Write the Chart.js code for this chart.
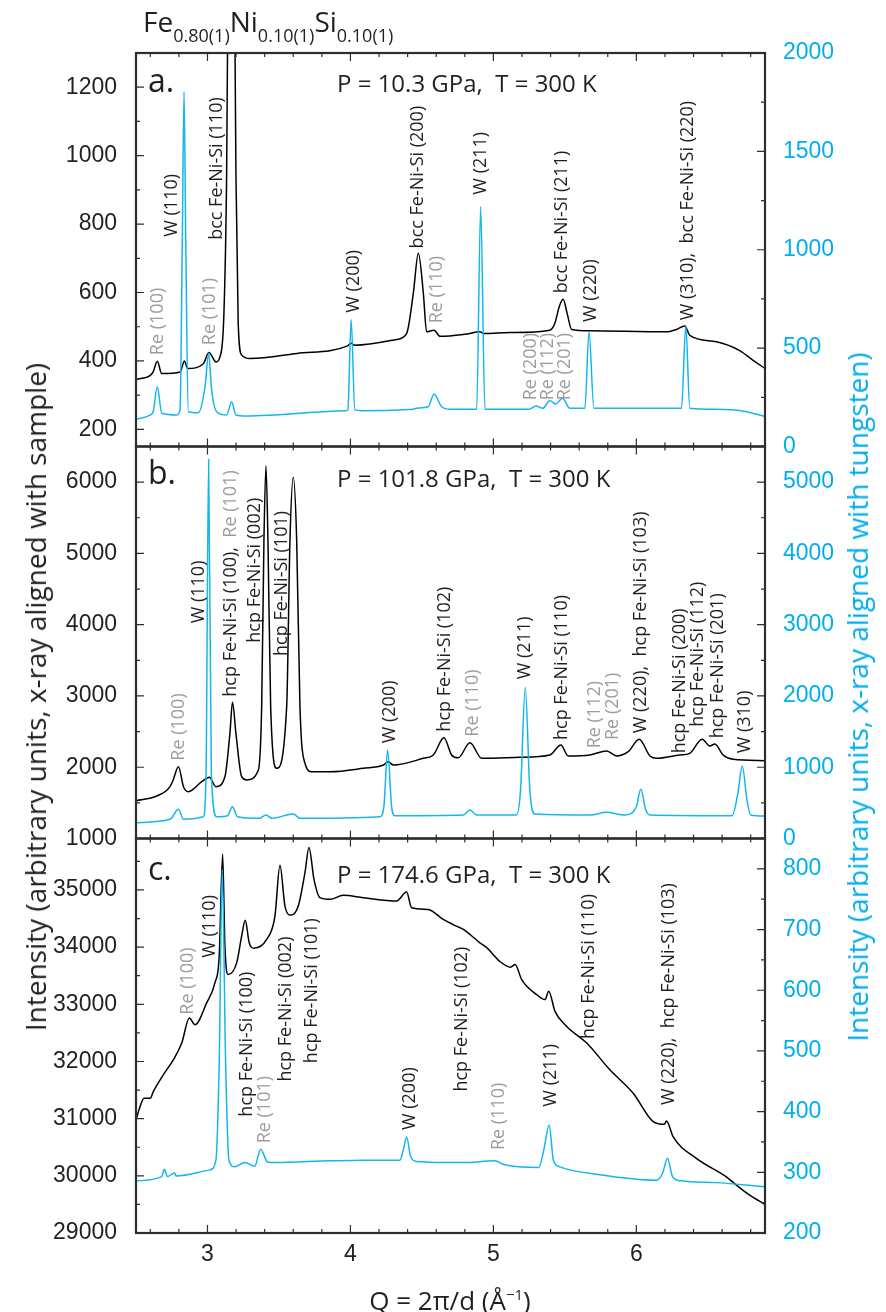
<!DOCTYPE html>
<html>
<head>
<meta charset="utf-8">
<script src="https://cdn.jsdelivr.net/npm/chart.js@4.4.1/dist/chart.umd.min.js"></script>
<style>
  body { margin: 0; background: #fff; }
  #fig { position: relative; width: 886px; height: 1312px; overflow: hidden; font-family: "Open Sans", sans-serif; color: #231f20; }
  #fig canvas { position: absolute; left: 0; top: 0; }
  .title { position: absolute; left: 143px; top: 7px; font-size: 28px; line-height: 28px; white-space: nowrap; }
  .title span { font-size: 18px; position: relative; top: 10px; }
  .ytitle { position: absolute; white-space: nowrap; font-size: 28px; line-height: 28px; transform: translate(-50%, -50%) rotate(-90deg); }
  .xtitle { position: absolute; left: 450px; top: 1297px; white-space: nowrap; font-size: 26px; line-height: 26px; transform: translate(-50%, -50%); }
  .xtitle sup { font-size: 15px; vertical-align: 10px; }
</style>
</head>
<body>
<div id="fig">
  <canvas id="chartA" width="886" height="1312"></canvas>
  <canvas id="chartB" width="886" height="1312"></canvas>
  <canvas id="chartC" width="886" height="1312"></canvas>
  <div class="title">Fe<span>0.80(1)</span>Ni<span>0.10(1)</span>Si<span>0.10(1)</span></div>
  <div class="ytitle" style="left:35px; top:697px;">Intensity (arbitrary units, x-ray aligned with sample)</div>
  <div class="ytitle" style="left:857px; top:697px; color:#00aeef;">Intensity (arbitrary units, x-ray aligned with tungsten)</div>
  <div class="xtitle">Q = 2π/d (Å<sup>−1</sup>)</div>
</div>
<script>
const qMin = 2.5, qMax = 6.9;
const qTicks = [3, 4, 5, 6];

// a. P = 10.3 GPa
const aSampleQ = [2.50, 2.60, 2.62, 2.649, 2.68, 2.81, 2.838, 2.862, 2.971, 3.01, 3.06, 3.087, 3.115, 3.134, 3.141, 3.167, 3.192, 3.199, 3.215, 3.239, 3.297, 3.626, 3.98, 4.005, 4.03, 4.323, 4.393, 4.44, 4.475, 4.51, 4.533, 4.585, 4.627, 4.80, 4.907, 4.93, 5.115, 5.395, 5.43, 5.46, 5.488, 5.516, 5.547, 5.675, 6.21, 6.28, 6.339, 6.374, 6.56, 6.72, 6.817, 6.90];
const aSampleI = [346, 358, 368, 399, 363, 368, 400, 378, 392, 425, 397, 412, 539, 949, 1350, 4000, 1350, 949, 510, 417, 407, 422, 444, 452, 446, 463, 480, 598, 715, 598, 485, 490, 472, 478, 485, 480, 483, 490, 510, 558, 580, 539, 492, 488, 485, 492, 502, 475, 456, 431, 402, 378];
const aTungQ = [2.50, 2.598, 2.62, 2.649, 2.68, 2.785, 2.808, 2.824, 2.836, 2.848, 2.866, 2.936, 2.983, 3.008, 3.029, 3.064, 3.134, 3.169, 3.199, 3.27, 3.97, 3.982, 4.005, 4.031, 4.08, 4.44, 4.46, 4.544, 4.585, 4.638, 4.70, 4.883, 4.911, 4.941, 5.25, 5.297, 5.346, 5.395, 5.437, 5.483, 5.535, 5.64, 5.669, 5.703, 6.012, 6.316, 6.346, 6.374, 6.56, 6.77, 6.90];
const aTungI = [138, 160, 177, 304, 169, 160, 186, 1050, 1803, 1050, 177, 172, 304, 474, 287, 177, 160, 228, 160, 155, 182, 186, 646, 186, 182, 189, 195, 202, 267, 202, 189, 189, 1219, 189, 189, 206, 194, 233, 216, 245, 194, 194, 584, 194, 194, 194, 612, 194, 189, 177, 152];
const aLeftTicks = [200, 400, 600, 800, 1000, 1200];
const aRightTicks = [0, 500, 1000, 1500, 2000];
const aPeakText = ['Re (100)', 'W (110)', 'Re (101)', 'bcc Fe-Ni-Si (110)', 'W (200)', 'bcc Fe-Ni-Si (200)', 'Re (110)', 'W (211)', 'Re (200)', 'Re (112)', 'Re (201)', 'bcc Fe-Ni-Si (211)', 'W (220)', 'W (310),  bcc Fe-Ni-Si (220)'];
const aPeakQ = [2.653, 2.754, 3.017, 3.068, 4.024, 4.472, 4.607, 4.911, 5.262, 5.378, 5.502, 5.478, 5.68, 6.362];
const aPeakI = [417, 763, 446, 754, 541, 729, 510, 886, 285, 285, 285, 598, 514, 519];

// b. P = 101.8 GPa
const bSampleQ = [2.50, 2.645, 2.738, 2.76, 2.797, 2.832, 2.866, 2.96, 3.013, 3.059, 3.122, 3.157, 3.175, 3.199, 3.239, 3.274, 3.356, 3.379, 3.395, 3.409, 3.423, 3.442, 3.484, 3.554, 3.577, 3.60, 3.624, 3.647, 3.682, 3.729, 3.857, 4.09, 4.23, 4.264, 4.30, 4.51, 4.58, 4.654, 4.708, 4.754, 4.836, 4.918, 5.185, 5.395, 5.472, 5.523, 5.675, 5.792, 5.862, 5.943, 6.02, 6.095, 6.141, 6.304, 6.374, 6.46, 6.514, 6.549, 6.607, 6.677, 6.90];
const bSampleI = [1530, 1596, 1727, 1821, 2007, 1727, 1657, 1797, 1859, 1727, 1867, 2476, 2911, 2476, 1867, 1821, 1961, 2849, 5188, 6226, 5188, 2849, 1985, 2849, 5188, 6068, 5188, 2849, 2055, 1937, 1937, 1985, 2031, 2078, 2031, 2125, 2172, 2414, 2172, 2132, 2344, 2125, 2139, 2172, 2312, 2158, 2172, 2228, 2158, 2218, 2392, 2158, 2125, 2172, 2195, 2392, 2298, 2326, 2172, 2111, 2092];
const bTungQ = [2.50, 2.738, 2.797, 2.832, 2.971, 2.99, 3.008, 3.027, 3.064, 3.14, 3.175, 3.21, 3.364, 3.409, 3.45, 3.60, 3.647, 4.206, 4.234, 4.26, 4.288, 4.31, 4.79, 4.836, 4.883, 5.162, 5.19, 5.223, 5.255, 5.29, 5.675, 5.79, 5.92, 6.0, 6.031, 6.066, 6.095, 6.67, 6.71, 6.741, 6.774, 6.80, 6.90];
const bTungI = [222, 269, 410, 269, 306, 915, 5320, 915, 306, 320, 446, 306, 283, 330, 283, 344, 283, 306, 446, 1242, 446, 320, 330, 400, 330, 330, 680, 2121, 680, 344, 330, 367, 330, 446, 690, 400, 330, 320, 634, 1017, 540, 330, 316];
const bLeftTicks = [1000, 2000, 3000, 4000, 5000, 6000];
const bRightTicks = [0, 1000, 2000, 3000, 4000, 5000];
const bPeakText = ['Re (100)', 'W (110)', 'hcp Fe-Ni-Si (100),  |Re (101)', 'hcp Fe-Ni-Si (002)', 'hcp Fe-Ni-Si (101)', 'W (200)', 'hcp Fe-Ni-Si (102)', 'Re (110)', 'W (211)', 'hcp Fe-Ni-Si (110)', 'Re (112)', 'Re (201)', 'W (220),  hcp Fe-Ni-Si (103)', 'hcp Fe-Ni-Si (200)', 'hcp Fe-Ni-Si (112)', 'hcp Fe-Ni-Si (201)', 'W (310)'];
const bPeakQ = [2.801, 2.943, 3.165, 3.332, 3.521, 4.278, 4.659, 4.855, 5.223, 5.481, 5.711, 5.839, 6.033, 6.302, 6.432, 6.572, 6.756];
const bPeakI = [2092, 4019, 2990, 3747, 3561, 2336, 2499, 2428, 3234, 2382, 2265, 2382, 2476, 2195, 2569, 2406, 2195];

// c. P = 174.6 GPa
const cSampleQ = [2.50, 2.528, 2.556, 2.60, 2.621, 2.691, 2.761, 2.82, 2.873, 2.913, 2.994, 3.052, 3.082, 3.106, 3.122, 3.145, 3.204, 3.239, 3.264, 3.292, 3.325, 3.414, 3.472, 3.507, 3.542, 3.577, 3.635, 3.682, 3.71, 3.745, 3.787, 3.857, 3.95, 4.09, 4.323, 4.393, 4.428, 4.544, 4.649, 4.742, 4.79, 4.906, 4.95, 5.05, 5.12, 5.152, 5.198, 5.303, 5.361, 5.387, 5.431, 5.513, 5.653, 5.815, 5.978, 6.118, 6.195, 6.211, 6.257, 6.42, 6.63, 6.70, 6.793, 6.90];
const cSampleI = [30977, 31210, 31357, 31357, 31473, 31766, 32029, 32322, 32760, 32643, 33024, 33374, 33841, 35625, 34016, 33520, 33725, 34192, 34472, 34076, 33981, 34134, 34543, 35432, 34718, 34560, 34718, 35304, 35742, 35186, 34865, 34836, 34906, 34865, 34806, 34964, 34690, 34660, 34485, 34367, 34310, 34076, 34000, 33740, 33650, 33695, 33432, 33169, 33082, 33227, 32876, 32613, 32322, 31854, 31445, 30947, 30900, 30960, 30684, 30305, 29982, 29837, 29661, 29500];
const cTungQ = [2.50, 2.68, 2.698, 2.72, 2.77, 2.78, 3.017, 3.059, 3.082, 3.103, 3.127, 3.15, 3.19, 3.262, 3.33, 3.372, 3.42, 3.47, 3.857, 4.09, 4.346, 4.37, 4.393, 4.421, 4.46, 4.79, 5.01, 5.07, 5.318, 5.353, 5.39, 5.42, 5.466, 5.745, 6.141, 6.183, 6.218, 6.253, 6.31, 6.56, 6.90];
const cTungI = [286, 293, 305, 293, 299, 294, 304, 320, 480, 798, 480, 320, 309, 316, 310, 338, 317, 316, 319, 320, 320, 337, 358, 326, 318, 316, 319, 313, 308, 337, 378, 320, 309, 296, 287, 298, 323, 293, 286, 283, 276];
const cLeftTicks = [29000, 30000, 31000, 32000, 33000, 34000, 35000];
const cRightTicks = [200, 300, 400, 500, 600, 700, 800];
const cPeakText = ['Re (100)', 'W (110)', 'hcp Fe-Ni-Si (100)', 'Re (101)', 'hcp Fe-Ni-Si (002)', 'hcp Fe-Ni-Si (101)', 'W (200)', 'hcp Fe-Ni-Si (102)', 'Re (110)', 'W (211)', 'hcp Fe-Ni-Si (110)', 'W (220),  hcp Fe-Ni-Si (103)'];
const cPeakQ = [2.866, 3.02, 3.279, 3.4, 3.547, 3.733, 4.419, 4.782, 5.036, 5.404, 5.666, 6.229];
const cPeakI = [32818, 33813, 31035, 30568, 31649, 31971, 30801, 31473, 30451, 31210, 32392, 31240];

const INK = '#231f20', GRAY = '#9d9d9d', CYAN = '#00aeef', LINE_CYAN = '#14b6ef';
const tickFont = { family: '"Liberation Sans", Arial, sans-serif', size: 23 };
const X_AXIS_H = 44;

function pts(q, v) {
    return q.map((x, i) => ({ x: x, y: v[i] }));
}

function steps(min, max, step) {
    let out = [];
    for (let k = Math.ceil(min / step - 1e-9); k * step <= max + 1e-9; k++) out.push(k * step);
    return out;
}

function panelPlugin(p) {
    return {
        id: 'panelDecor',
        afterDatasetsDraw(chart) {
            const { ctx, chartArea: ca, scales } = chart;
            const x = scales.x, yl = scales.yL, yr = scales.yR;
            ctx.save();
            ctx.strokeStyle = '#2e2e2e';
            ctx.lineWidth = 1.2;
            ctx.beginPath();
            steps(qMin, qMax, 0.2).forEach(v => {
                const px = x.getPixelForValue(v);
                const len = Math.abs(v - Math.round(v)) < 1e-6 ? 8 : 4;
                ctx.moveTo(px, ca.top); ctx.lineTo(px, ca.top + len);
                ctx.moveTo(px, ca.bottom); ctx.lineTo(px, ca.bottom - len);
            });
            steps(yl.min, yl.max, p.leftMinor).forEach(v => {
                const py = yl.getPixelForValue(v);
                const len = p.leftTicks.includes(v) ? 8 : 4;
                ctx.moveTo(ca.left, py); ctx.lineTo(ca.left + len, py);
            });
            steps(yr.min, yr.max, p.rightMinor).forEach(v => {
                const py = yr.getPixelForValue(v);
                const len = p.rightTicks.includes(v) ? 8 : 4;
                ctx.moveTo(ca.right, py); ctx.lineTo(ca.right - len, py);
            });
            ctx.stroke();
            ctx.lineWidth = 2.2;
            ctx.strokeRect(ca.left, ca.top, ca.right - ca.left, ca.bottom - ca.top);

            // peak labels, rotated
            ctx.font = '18px "Open Sans"';
            ctx.textBaseline = 'middle';
            ctx.textAlign = 'left';
            p.peakText.forEach((t, i) => {
                ctx.save();
                ctx.translate(x.getPixelForValue(p.peakQ[i]), yl.getPixelForValue(p.peakI[i]));
                ctx.rotate(-Math.PI / 2);
                let off = 0;
                t.split('|').forEach(part => {
                    ctx.fillStyle = part.startsWith('Re') ? GRAY : INK;
                    ctx.fillText(part, off, 0);
                    off += ctx.measureText(part).width;
                });
                ctx.restore();
            });

            ctx.fillStyle = INK;
            ctx.textBaseline = 'alphabetic';
            ctx.font = '32px "Open Sans"';
            ctx.fillText(p.letter, ca.left + 12, ca.top + p.letterDy);
            ctx.font = '24px "Open Sans"';
            ctx.fillText(p.condition, ca.left + 201, ca.top + p.condDy);
            ctx.restore();
        }
    };
}

function newPanel(id, p) {
    const showX = !!p.showX;
    new Chart(document.getElementById(id), {
        type: 'line',
        data: {
            datasets: [{
                label: 'tungsten',
                data: pts(p.tungQ, p.tungI),
                yAxisID: 'yR',
                borderColor: LINE_CYAN,
                borderWidth: 1.5,
                pointRadius: 0,
                cubicInterpolationMode: 'monotone',
                clip: 0
            }, {
                label: 'sample',
                data: pts(p.sampleQ, p.sampleI),
                yAxisID: 'yL',
                borderColor: '#000',
                borderWidth: 1.5,
                pointRadius: 0,
                cubicInterpolationMode: 'monotone',
                clip: 0
            }]
        },
        options: {
            responsive: false,
            animation: false,
            devicePixelRatio: 1,
            layout: { padding: { left: 0, right: 0, top: p.top, bottom: showX ? 1312 - p.bottom - X_AXIS_H : 1312 - p.bottom } },
            plugins: { legend: { display: false }, tooltip: { enabled: false } },
            scales: {
                x: {
                    type: 'linear', min: qMin, max: qMax, display: showX,
                    grid: { display: false }, border: { display: false },
                    afterBuildTicks: s => { s.ticks = qTicks.map(v => ({ value: v })); },
                    afterFit: s => { if (showX) s.height = X_AXIS_H; },
                    ticks: { padding: 0, color: INK, font: tickFont, maxRotation: 0, autoSkip: false, callback: v => String(v) }
                },
                yL: {
                    type: 'linear', position: 'left', min: p.leftMin, max: p.leftMax,
                    grid: { display: false }, border: { display: false },
                    afterBuildTicks: s => { s.ticks = p.leftTicks.map(v => ({ value: v })); },
                    afterFit: s => { s.width = 136; },
                    ticks: { padding: 11, color: INK, font: tickFont, autoSkip: false, callback: v => String(v) }
                },
                yR: {
                    type: 'linear', position: 'right', min: p.rightMin, max: p.rightMax,
                    grid: { display: false }, border: { display: false },
                    afterBuildTicks: s => { s.ticks = p.rightTicks.map(v => ({ value: v })); },
                    afterFit: s => { s.width = 121; },
                    ticks: { padding: 10, color: CYAN, font: tickFont, autoSkip: false, callback: v => String(v) }
                }
            }
        },
        plugins: [panelPlugin(p)]
    });
}

newPanel('chartA', {
    top: 53, bottom: 446.5,
    sampleQ: aSampleQ, sampleI: aSampleI, tungQ: aTungQ, tungI: aTungI,
    leftMin: 150, leftMax: 1300, rightMin: 0, rightMax: 2000,
    leftTicks: aLeftTicks, rightTicks: aRightTicks, leftMinor: 100, rightMinor: 250,
    peakText: aPeakText, peakQ: aPeakQ, peakI: aPeakI,
    letter: 'a.', letterDy: 39, condition: 'P = 10.3 GPa,  T = 300 K', condDy: 39
});

newPanel('chartB', {
    top: 446.5, bottom: 838.5,
    sampleQ: bSampleQ, sampleI: bSampleI, tungQ: bTungQ, tungI: bTungI,
    leftMin: 1000, leftMax: 6500, rightMin: 0, rightMax: 5500,
    leftTicks: bLeftTicks, rightTicks: bRightTicks, leftMinor: 500, rightMinor: 500,
    peakText: bPeakText, peakQ: bPeakQ, peakI: bPeakI,
    letter: 'b.', letterDy: 37, condition: 'P = 101.8 GPa,  T = 300 K', condDy: 40
});

newPanel('chartC', {
    top: 838.5, bottom: 1233, showX: true,
    sampleQ: cSampleQ, sampleI: cSampleI, tungQ: cTungQ, tungI: cTungI,
    leftMin: 29000, leftMax: 35900, rightMin: 200, rightMax: 850,
    leftTicks: cLeftTicks, rightTicks: cRightTicks, leftMinor: 500, rightMinor: 50,
    peakText: cPeakText, peakQ: cPeakQ, peakI: cPeakI,
    letter: 'c.', letterDy: 41, condition: 'P = 174.6 GPa,  T = 300 K', condDy: 44
});
</script>
</body>
</html>
